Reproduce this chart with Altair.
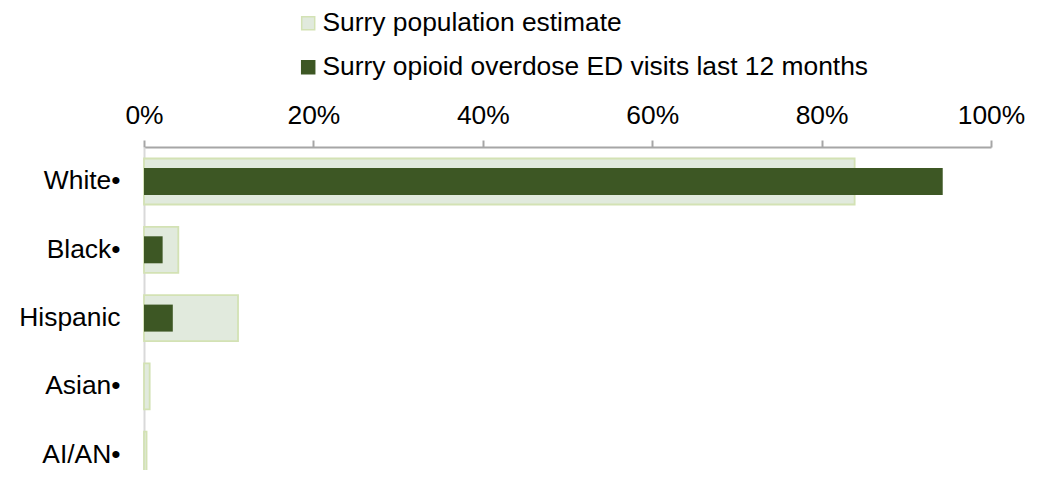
import altair as alt
import pandas as pd

categories = ["White•", "Black•", "Hispanic", "Asian•", "AI/AN•"]
series = ["Surry population estimate", "Surry opioid overdose ED visits last 12 months"]
population = [0.839, 0.0405, 0.111, 0.0067, 0.003]
ed_visits = [0.943, 0.022, 0.034, 0.0, 0.0]

rows = []
for c, p, e in zip(categories, population, ed_visits):
    rows.append({"cat": c, "series": series[0], "value": p})
    rows.append({"cat": c, "series": series[1], "value": e})
df = pd.DataFrame(rows)

FONT = "Liberation Sans"
FS = 26.4
LIGHT_FILL = "#E1EADD"
LIGHT_STROKE = "#D3E2B4"
DARK = "#3D5724"

color_scale = alt.Scale(domain=series, range=[LIGHT_FILL, DARK])
stroke_scale = alt.Scale(domain=series, range=[LIGHT_STROKE, DARK])

x_enc = alt.X(
    "value:Q",
    scale=alt.Scale(domain=[0, 1], nice=False, zero=True),
    axis=alt.Axis(
        orient="top", values=[0, 0.2, 0.4, 0.6, 0.8, 1.0], format=".0%",
        grid=False, domainColor="#A6A6A6", domainWidth=2,
        tickColor="#A6A6A6", tickWidth=2, tickSize=7,
        labelFontSize=FS, labelColor="#000000", labelFont=FONT,
        labelPadding=11, labelFlush=False, labelOverlap=False, title=None,
    ),
)
y_enc = alt.Y(
    "cat:N", sort=categories,
    scale=alt.Scale(paddingInner=0.7, paddingOuter=0.2145, align=0.8275),
    axis=alt.Axis(
        ticks=False, tickSize=0, domainColor="#D9D9D9", domainWidth=2,
        labelFontSize=FS, labelColor="#000000", labelFont=FONT,
        labelPadding=24, title=None, labelLimit=300,
    ),
)
legend = alt.Legend(
    title=None, orient="none", legendX=151, legendY=-137, direction="vertical",
    symbolType="square", symbolSize=169, symbolStrokeWidth=1.5,
    labelFontSize=FS, labelFont=FONT, labelColor="#000000", labelOffset=1,
    rowPadding=17, labelLimit=800,
)

base = alt.Chart(df)
pop = base.transform_filter(alt.datum.series == series[0]).mark_bar(
    size=46, strokeWidth=1.8
).encode(
    x=x_enc, y=y_enc,
    color=alt.Color("series:N", scale=color_scale, legend=legend),
    stroke=alt.Stroke("series:N", scale=stroke_scale, legend=legend),
)
ed = base.transform_filter(alt.datum.series == series[1]).mark_bar(
    size=27, strokeWidth=0
).encode(
    x=x_enc, y=y_enc,
    color=alt.Color("series:N", scale=color_scale, legend=legend),
    stroke=alt.Stroke("series:N", scale=stroke_scale, legend=legend),
)

chart = alt.layer(pop, ed).properties(
    width=847, height=323,
    background="#FFFFFF",
    autosize=alt.AutoSizeParams(type="none"),
    padding={"left": 136, "top": 139, "right": 49, "bottom": 0},
).configure_view(stroke=None, strokeWidth=0)

chart.save("out.html", embed_options={"renderer": "svg", "actions": False})
